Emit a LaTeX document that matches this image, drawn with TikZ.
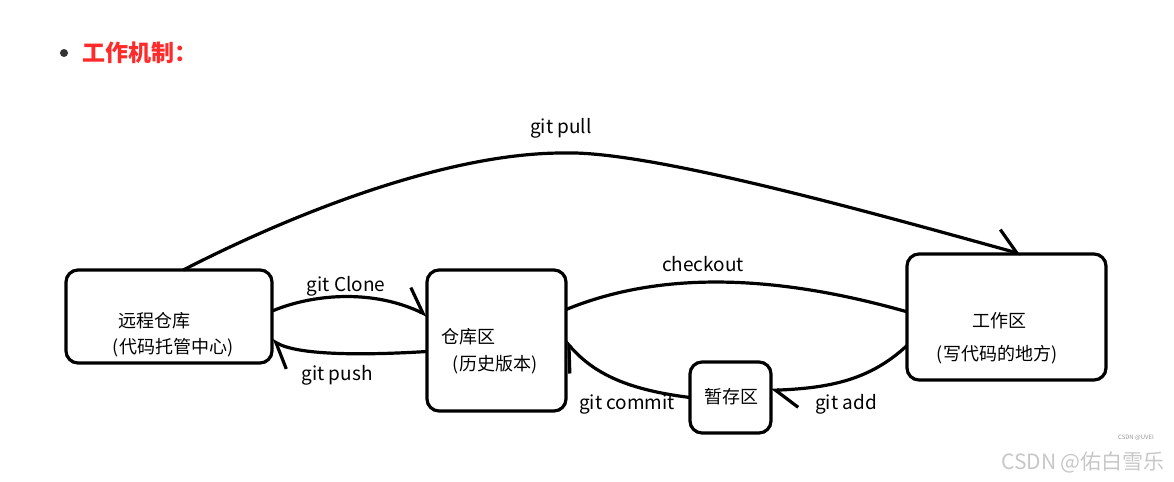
\documentclass[tikz,border=0pt]{standalone}
\usepackage{fontspec}
\setmainfont{Noto Sans CJK SC}
\usetikzlibrary{arrows.meta, calc, positioning}
\definecolor{titlered}{HTML}{FF2A2A}
\tikzset{
  area/.style={draw=black,line width=1.6pt,rounded corners=6pt,inner sep=0pt,outer sep=0pt},
  areatext/.style={font=\fontsize{9}{11}\selectfont,inner sep=0pt},
  flow/.style={line width=1.6pt},
  op/.style={flow,-{Straight Barb[left,length=11pt,width=18pt]}},
  oplabel/.style={font=\fontsize{9.5}{11}\selectfont,inner sep=0pt},
}

\begin{document}
\begin{tikzpicture}[x=0.5pt,y=0.5pt]
	\useasboundingbox (0,0) rectangle (1174,-482);
	% heading
	\node[circle,fill=black!80,inner sep=0pt,minimum size=4pt] (dot) at (64,-53) {};
	\node[anchor=west,text=titlered,font=\fontsize{11.5}{13}\selectfont\bfseries,inner sep=0pt] (title) at (82,-53) {工作机制：};
	% areas
	\node[area,minimum width=103pt,minimum height=46.5pt] (remote) at (169,-316.5) {};
	\node[area,minimum width=69.5pt,minimum height=70.5pt] (repo) at (496.5,-340.5) {};
	\node[area,minimum width=99.5pt,minimum height=63pt] (work) at (1006.5,-317) {};
	\node[area,minimum width=40.5pt,minimum height=35.5pt] (stage) at (730.5,-397.5) {};
	\node[areatext] (remote1) at (155,-321) {远程仓库};
	\node[areatext] (remote2) at (173,-348) {(代码托管中心)};
	\node[areatext] (repo1) at (468,-337) {仓库区};
	\node[areatext] (repo2) at (495,-365) {(历史版本)};
	\node[areatext] (work1) at (999,-321) {工作区};
	\node[areatext] (work2) at (997,-355) {(写代码的地方)};
	\node[areatext] (stage1) at (731,-397) {暂存区};
	% commands
	\coordinate (pulltop) at (563,-153);
	\draw[op] (remote.73) .. controls (300,-210) and (450,-153) .. (pulltop)
	  .. controls (650,-150) and (880,-215) .. (work.77);
	\draw[op] (remote.3) .. controls (310,-295) and (370,-288) .. (repo.160);
	\draw[op] (repo.189) .. controls (370,-355) and (300,-356) .. (remote.-13);
	\draw[flow] (repo.24) .. controls (650,-275) and (760,-270) .. (work.177);
	\draw[op] (work.196) .. controls (870,-380) and (830,-388) .. (stage.10);
	\draw[op] (stage.west) .. controls (630,-390) and (595,-375) .. (repo.-1);
	\node[oplabel] (pull) at (561,-128) {git pull};
	\node[oplabel] (clone) at (346,-286) {git Clone};
	\node[oplabel] (push) at (337,-375) {git push};
	\node[oplabel] (checkout) at (703,-264) {checkout};
	\node[oplabel] (add) at (846,-404) {git add};
	\node[oplabel] (commit) at (627,-405) {git commit};
	% watermark
	\node[text=black!22,font=\fontsize{10.5}{12}\selectfont,inner sep=0pt] (mark) at (1083,-462) {CSDN @佑白雪乐};
	\node[text=black!40,font=\fontsize{3}{3}\selectfont,inner sep=0pt] (marksmall) at (1136,-438) {CSDN @UVEI};
\end{tikzpicture}
\end{document}
